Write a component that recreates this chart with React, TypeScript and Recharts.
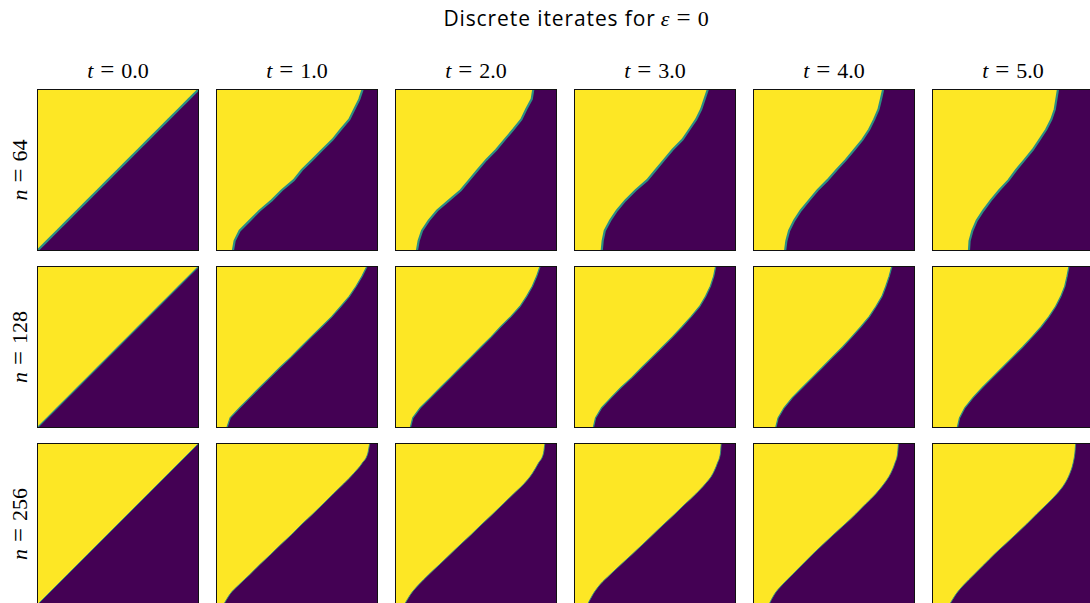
import { AreaChart, Area, XAxis, YAxis } from 'recharts'

// Rows of the grid (height where the edge was sampled, 0 = bottom, 1 = top)
const V_LEVELS = [0, 0.0625, 0.125, 0.1875, 0.25, 0.3125, 0.375, 0.4375, 0.5, 0.5625, 0.625, 0.6875, 0.75, 0.8125, 0.875, 0.9375, 1]

const TIMES = ['0.0', '1.0', '2.0', '3.0', '4.0', '5.0']
const SIZES = [64, 128, 256]

// Horizontal position of the yellow/purple interface at each V_LEVELS row, one list per time
const edgeN64 = [
  [0, 0.0625, 0.125, 0.1875, 0.25, 0.3125, 0.375, 0.4375, 0.5, 0.5625, 0.625, 0.6875, 0.75, 0.8125, 0.875, 0.9375, 1],
  [0.104, 0.115, 0.146, 0.208, 0.27, 0.344, 0.406, 0.48, 0.53, 0.594, 0.656, 0.72, 0.77, 0.823, 0.854, 0.885, 0.906],
  [0.135, 0.146, 0.167, 0.208, 0.26, 0.333, 0.406, 0.458, 0.51, 0.563, 0.625, 0.677, 0.73, 0.78, 0.81, 0.844, 0.854],
  [0.171, 0.177, 0.19, 0.223, 0.265, 0.317, 0.38, 0.452, 0.504, 0.556, 0.608, 0.67, 0.712, 0.754, 0.785, 0.806, 0.827],
  [0.198, 0.206, 0.223, 0.254, 0.295, 0.346, 0.398, 0.46, 0.515, 0.573, 0.625, 0.676, 0.717, 0.748, 0.775, 0.79, 0.804],
  [0.228, 0.232, 0.249, 0.276, 0.317, 0.363, 0.415, 0.473, 0.519, 0.571, 0.622, 0.664, 0.705, 0.737, 0.758, 0.768, 0.778],
]

const edgeN128 = [
  [0, 0.0625, 0.125, 0.1875, 0.25, 0.3125, 0.375, 0.4375, 0.5, 0.5625, 0.625, 0.6875, 0.75, 0.8125, 0.875, 0.9375, 1],
  [0.067, 0.0875, 0.146, 0.208, 0.27, 0.333, 0.396, 0.4625, 0.525, 0.5875, 0.652, 0.715, 0.77, 0.823, 0.865, 0.902, 0.933],
  [0.094, 0.11, 0.156, 0.219, 0.281, 0.344, 0.406, 0.469, 0.531, 0.594, 0.652, 0.715, 0.771, 0.8125, 0.848, 0.875, 0.896],
  [0.119, 0.133, 0.171, 0.229, 0.29, 0.358, 0.42, 0.483, 0.546, 0.608, 0.667, 0.723, 0.775, 0.8125, 0.842, 0.8625, 0.875],
  [0.14, 0.155, 0.192, 0.243, 0.305, 0.367, 0.429, 0.49, 0.553, 0.61, 0.666, 0.718, 0.759, 0.796, 0.82, 0.841, 0.858],
  [0.156, 0.17, 0.203, 0.253, 0.311, 0.373, 0.436, 0.498, 0.56, 0.618, 0.674, 0.722, 0.763, 0.795, 0.82, 0.834, 0.846],
]

const edgeN256 = [
  [0, 0.0625, 0.125, 0.1875, 0.25, 0.3125, 0.375, 0.4375, 0.5, 0.5625, 0.625, 0.6875, 0.75, 0.8125, 0.875, 0.9375, 1],
  [0.046, 0.083, 0.142, 0.208, 0.271, 0.3375, 0.402, 0.469, 0.531, 0.598, 0.6625, 0.725, 0.79, 0.85, 0.902, 0.9375, 0.952],
  [0.057, 0.094, 0.146, 0.208, 0.275, 0.34, 0.406, 0.473, 0.5375, 0.604, 0.669, 0.733, 0.798, 0.848, 0.885, 0.917, 0.927],
  [0.082, 0.115, 0.16, 0.223, 0.29, 0.358, 0.425, 0.49, 0.556, 0.623, 0.6875, 0.754, 0.8125, 0.858, 0.885, 0.904, 0.91],
  [0.097, 0.13, 0.181, 0.243, 0.305, 0.367, 0.433, 0.5, 0.569, 0.635, 0.697, 0.759, 0.81, 0.85, 0.876, 0.893, 0.899],
  [0.107, 0.145, 0.197, 0.259, 0.322, 0.384, 0.452, 0.519, 0.585, 0.647, 0.712, 0.772, 0.82, 0.851, 0.871, 0.882, 0.888],
]

const EDGES = [edgeN64, edgeN128, edgeN256]

const YELLOW = '#fde725'
const PURPLE = '#440154'
const SERIF = '"Liberation Serif", "DejaVu Serif", serif'
const SANS = '"Open Sans", "Noto Sans", sans-serif'

const PANEL = 162
const COL_X = [37, 216, 395, 574, 753, 932]
const ROW_Y = [89, 266, 443]

function Panel({ edge, n, left, top }: { edge: number[]; n: number; left: number; top: number }) {
  // purple region sits below/right of the interface; close it off along the top edge
  const data = edge.map((x, i) => ({ x, y: V_LEVELS[i] }))
  data.push({ x: 1, y: 1 })

  const edgeWidth = n === 64 ? 2.2 : n === 128 ? 1.3 : 0.9

  return (
    <div style={{ position: 'absolute', left, top, width: PANEL, height: PANEL, background: YELLOW }}>
      <AreaChart width={PANEL} height={PANEL} data={data} margin={{ top: 0, right: 0, bottom: 0, left: 0 }}>
        <XAxis dataKey="x" type="number" domain={[0, 1]} hide />
        <YAxis type="number" domain={[0, 1]} hide />
        <Area
          type={n === 256 ? 'monotoneX' : 'linear'}
          dataKey="y"
          baseValue={0}
          fill={PURPLE}
          fillOpacity={1}
          stroke="#2c8f84"
          strokeWidth={edgeWidth}
          dot={false}
          activeDot={false}
          isAnimationActive={false}
        />
      </AreaChart>
      <div
        style={{
          position: 'absolute',
          left: 0,
          top: 0,
          width: PANEL,
          height: PANEL,
          boxSizing: 'border-box',
          border: '1px solid #111',
          pointerEvents: 'none',
        }}
      />
    </div>
  )
}

// "sym = value" in math style: italic symbol, a wide equals sign with gaps around it
function MathLabel({ sym, value }: { sym: string; value: string }) {
  return (
    <>
      <tspan fontStyle="italic">{sym}</tspan>
      <tspan dx={7} fontSize={25}>=</tspan>
      <tspan dx={7}>{value}</tspan>
    </>
  )
}

export default function App() {
  return (
    <div style={{ position: 'absolute', left: 0, top: 0, width: 1090, height: 603, overflow: 'hidden', background: '#fff' }}>
      <svg width={1090} height={603} style={{ position: 'absolute', left: 0, top: 0 }}>
        <text x={576} y={26} textAnchor="middle" fontFamily={SANS} fontSize={21} letterSpacing={0.9} fill="#000">
          <tspan>Discrete iterates for</tspan>
          <tspan dx={5} fontFamily={SERIF} fontStyle="italic" fontSize={22} letterSpacing={0}>ε</tspan>
          <tspan dx={7} fontFamily={SERIF} fontSize={25} letterSpacing={0}>=</tspan>
          <tspan dx={7} fontFamily={SERIF} fontSize={22} letterSpacing={0}>0</tspan>
        </text>
        {TIMES.map((t, i) => (
          <text key={t} x={COL_X[i] + PANEL / 2} y={78} textAnchor="middle" fontFamily={SERIF} fontSize={22} fill="#000">
            <MathLabel sym="t" value={t} />
          </text>
        ))}
        {SIZES.map((n, j) => {
          const cy = ROW_Y[j] + PANEL / 2
          return (
            <text
              key={n}
              x={27}
              y={cy}
              transform={`rotate(-90 27 ${cy})`}
              textAnchor="middle"
              fontFamily={SERIF}
              fontSize={22}
              fill="#000"
            >
              <MathLabel sym="n" value={String(n)} />
            </text>
          )
        })}
      </svg>
      {SIZES.map((n, j) =>
        TIMES.map((t, i) => (
          <Panel key={`${n}-${t}`} edge={EDGES[j][i]} n={n} left={COL_X[i]} top={ROW_Y[j]} />
        ))
      )}
    </div>
  )
}
